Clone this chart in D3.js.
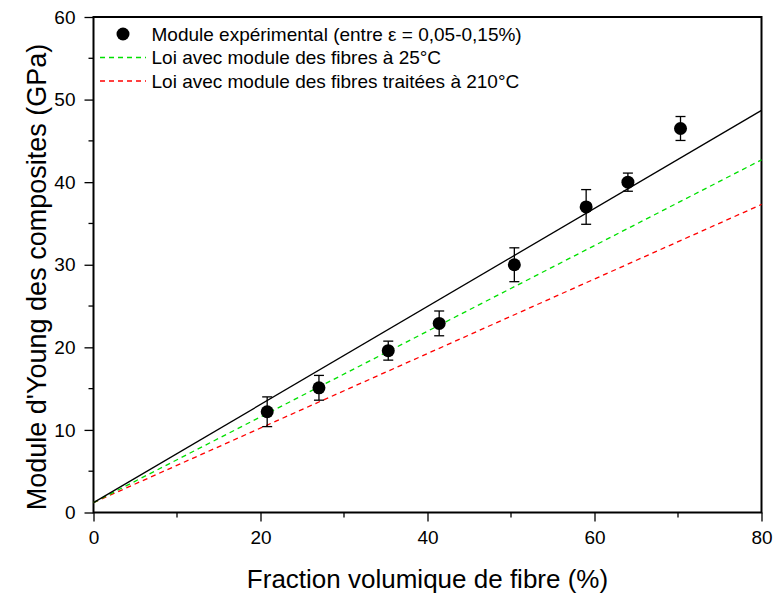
<!DOCTYPE html>
<html><head><meta charset="utf-8">
<script src="https://cdn.jsdelivr.net/npm/d3@7"></script>
<style>body{margin:0;background:#fff}svg{display:block}text{font-family:"Liberation Sans",Arial,sans-serif;fill:#000}</style>
</head><body>
<script>
const fraction = [20.8, 27.0, 35.3, 41.4, 50.4, 59.0, 64.0, 70.3];
const modulus = [12.2, 15.1, 19.6, 22.9, 30.0, 37.0, 40.0, 46.5];
const errors = [1.8, 1.5, 1.15, 1.5, 2.05, 2.1, 1.1, 1.45];
const lawX = [0, 80];
const fitBlack = [1.2, 48.7];
const law25 = [1.2, 42.7];
const law210 = [1.2, 37.3];
const xTicks = [0, 20, 40, 60, 80];
const yTicks = [0, 10, 20, 30, 40, 50, 60];
const legendLabels = ["Module expérimental (entre \u03b5 = 0,05-0,15%)", "Loi avec module des fibres à 25°C", "Loi avec module des fibres traitées à 210°C"];

const W = 774, H = 599;
const m = {l: 93.5, r: 761.5, t: 17, b: 512.5};
const svg = d3.select("body").append("svg").attr("width", W).attr("height", H);
const x = d3.scaleLinear().domain([0, 80]).range([m.l, m.r]);
const y = d3.scaleLinear().domain([0, 60]).range([m.b, m.t]);

// minor ticks
const xMinor = d3.range(10, 80, 20);
const yMinor = d3.range(5, 60, 10);
svg.append("g").selectAll("line").data(xMinor).join("line")
  .attr("x1", d => x(d)).attr("x2", d => x(d)).attr("y1", m.b).attr("y2", m.b + 5)
  .attr("stroke", "#000").attr("stroke-width", 1.3);
svg.append("g").selectAll("line").data(yMinor).join("line")
  .attr("y1", d => y(d)).attr("y2", d => y(d)).attr("x1", m.l).attr("x2", m.l - 5)
  .attr("stroke", "#000").attr("stroke-width", 1.3);

// axes
const xAxis = svg.append("g").attr("transform", `translate(0,${m.b})`)
  .call(d3.axisBottom(x).tickValues(xTicks).tickSize(9).tickPadding(9).tickFormat(d3.format("d")));
const yAxis = svg.append("g").attr("transform", `translate(${m.l},0)`)
  .call(d3.axisLeft(y).tickValues(yTicks).tickSize(9).tickPadding(9).tickFormat(d3.format("d")));
[xAxis, yAxis].forEach(g => {
  g.select(".domain").remove();
  g.selectAll(".tick line").attr("stroke", "#000").attr("stroke-width", 1.3);
  g.selectAll("text").style("font-size", "19px").attr("fill", "#000");
});
// frame
svg.append("rect").attr("x", m.l).attr("y", m.t).attr("width", m.r - m.l).attr("height", m.b - m.t)
  .attr("fill", "none").attr("stroke", "#000").attr("stroke-width", 2);

// law lines
const line = d3.line().x(d => x(d[0])).y(d => y(d[1]));
const mk = arr => lawX.map((v, i) => [v, arr[i]]);
svg.append("path").attr("d", line(mk(law210))).attr("stroke", "#ff0000").attr("stroke-width", 1.3).attr("stroke-dasharray", "5,4").attr("fill", "none");
svg.append("path").attr("d", line(mk(law25))).attr("stroke", "#00e000").attr("stroke-width", 1.3).attr("stroke-dasharray", "5,4").attr("fill", "none");
svg.append("path").attr("d", line(mk(fitBlack))).attr("stroke", "#000").attr("stroke-width", 1.3).attr("fill", "none");

// error bars
const pts = fraction.map((f, i) => ({x: f, y: modulus[i], e: errors[i]}));
const eb = svg.append("g").attr("stroke", "#000").attr("stroke-width", 1.3);
pts.forEach(p => {
  eb.append("line").attr("x1", x(p.x)).attr("x2", x(p.x)).attr("y1", y(p.y - p.e)).attr("y2", y(p.y + p.e));
  [p.y - p.e, p.y + p.e].forEach(v => eb.append("line").attr("x1", x(p.x) - 5).attr("x2", x(p.x) + 5).attr("y1", y(v)).attr("y2", y(v)));
});
svg.append("g").selectAll("circle").data(pts).join("circle")
  .attr("cx", d => x(d.x)).attr("cy", d => y(d.y)).attr("r", 6.5).attr("fill", "#000");

// legend
const lg = svg.append("g");
const rows = [34, 57.5, 81];
lg.append("circle").attr("cx", 123).attr("cy", rows[0]).attr("r", 6.5).attr("fill", "#000");
lg.append("line").attr("x1", 100).attr("x2", 146).attr("y1", rows[1]).attr("y2", rows[1]).attr("stroke", "#00e000").attr("stroke-width", 1.3).attr("stroke-dasharray", "5,4");
lg.append("line").attr("x1", 100).attr("x2", 146).attr("y1", rows[2]).attr("y2", rows[2]).attr("stroke", "#ff0000").attr("stroke-width", 1.3).attr("stroke-dasharray", "5,4");
legendLabels.forEach((t, i) => {
  lg.append("text").attr("x", 151.5).attr("y", rows[i]).attr("dy", "0.35em").style("font-size", "19px").text(t);
});

// axis titles
svg.append("text").attr("x", (m.l + m.r) / 2).attr("y", 579).attr("dy", "0.35em").attr("text-anchor", "middle")
  .style("font-size", "26px").text("Fraction volumique de fibre (%)");
svg.append("text").attr("transform", `translate(37,277) rotate(-90)`).attr("dy", "0.35em").attr("text-anchor", "middle")
  .style("font-size", "27px").text("Module d'Young des composites (GPa)");
</script>
</body></html>
